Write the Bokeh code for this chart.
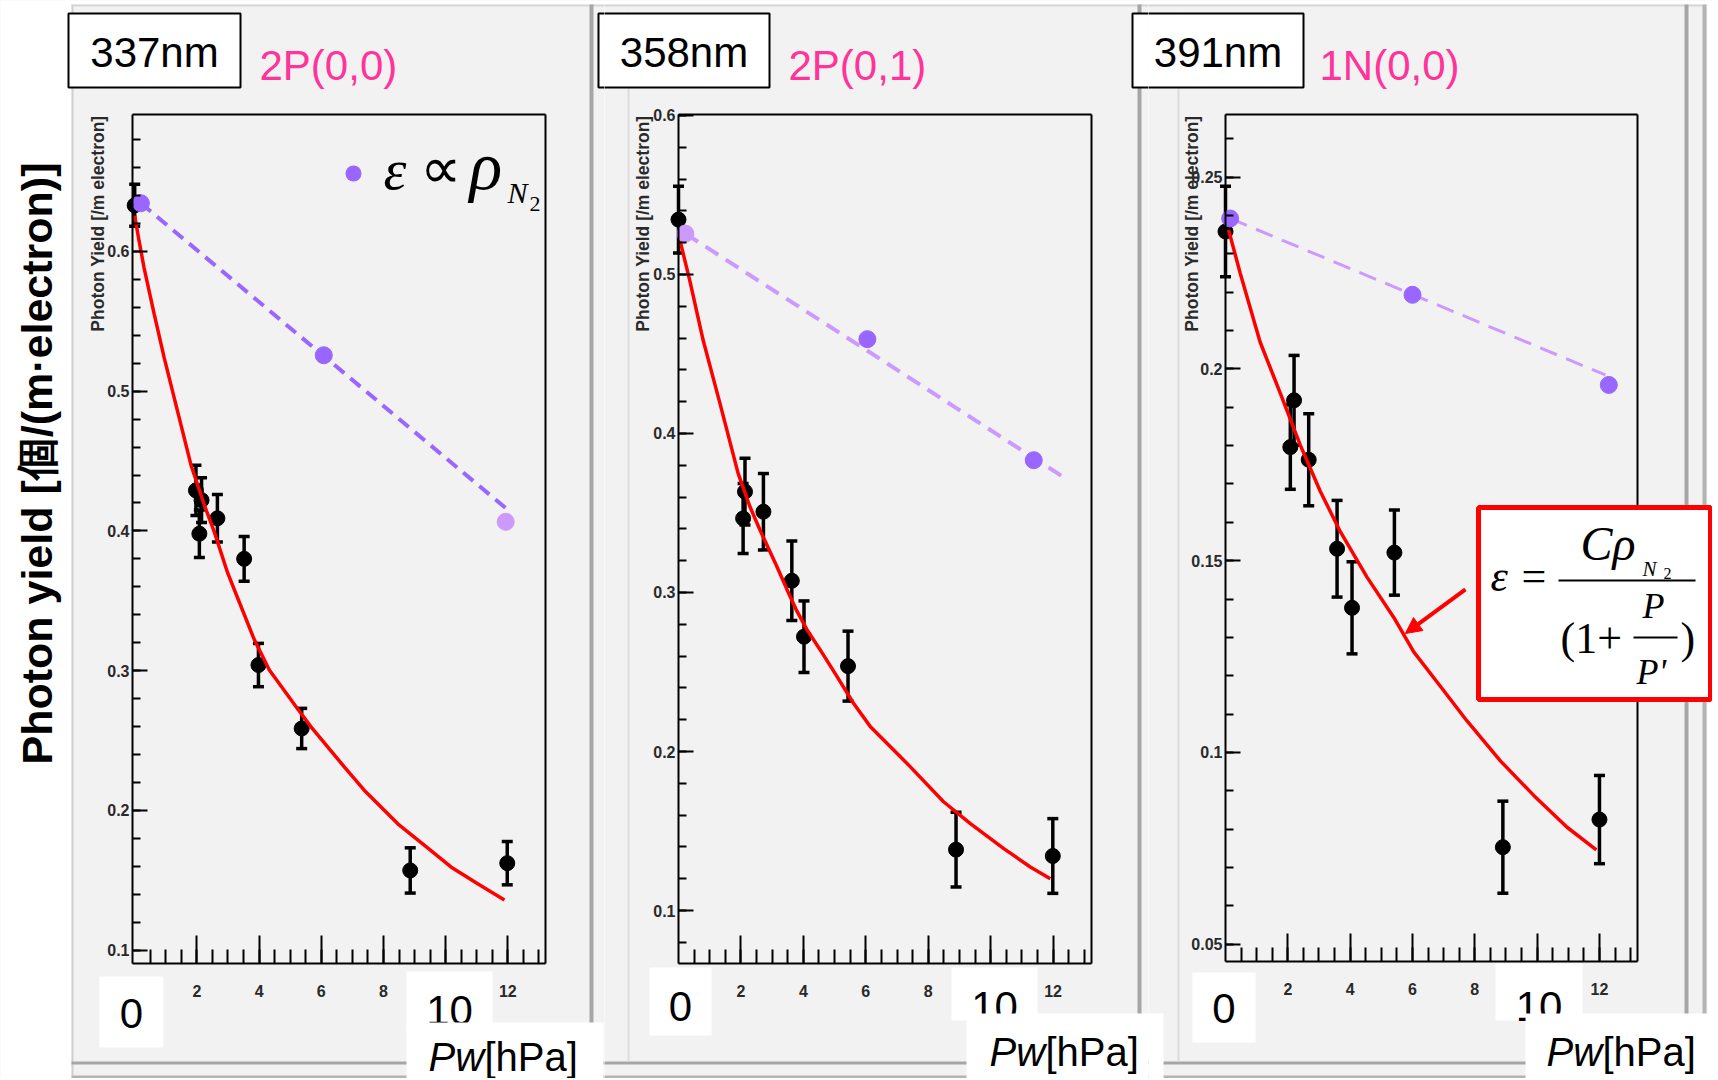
import math
from bokeh.plotting import figure
from bokeh.layouts import row
from bokeh.models import (Range1d, FixedTicker, Label, BoxAnnotation, Whisker, TeeHead,
                          ColumnDataSource, Arrow, NormalHead, LinearAxis)
from bokeh.embed import file_html
from bokeh.resources import INLINE

# ------------------------------------------------------------------ data
# 337 nm  2P(0,0)
yield337_p = [0.0, 1.97, 2.08, 2.15, 2.66, 3.52, 3.98, 5.37, 8.86, 11.98]
yield337_v = [0.633, 0.429, 0.398, 0.422, 0.409, 0.380, 0.304, 0.2586, 0.157, 0.1622]
yield337_e = [0.015, 0.018, 0.017, 0.016, 0.017, 0.016, 0.0155, 0.0144, 0.0162, 0.0155]
fit337_p = [0.0, 0.14, 0.3, 0.63, 0.95, 1.38, 1.81, 2.24, 2.56, 2.99, 3.42, 3.85, 4.33,
            5.19, 5.67, 6.74, 7.38, 8.46, 9.32, 10.18, 11.03, 11.89]
fit337_v = [0.6256, 0.6077, 0.5885, 0.555, 0.5238, 0.4855, 0.4472, 0.4185, 0.3993, 0.3699,
            0.3459, 0.322, 0.3005, 0.2742, 0.2598, 0.2311, 0.2144, 0.1904, 0.1749, 0.1593,
            0.1474, 0.1359]
rho337_p = [0.2, 6.08, 11.93]
rho337_v = [0.6345, 0.5257, 0.4065]
rholine337_p = [0.2, 11.97]
rholine337_v = [0.6345, 0.4156]

# 358 nm  2P(0,1)
yield358_p = [0.0, 2.07, 2.13, 2.72, 3.63, 4.02, 5.43, 8.89, 11.99]
yield358_v = [0.5345, 0.3466, 0.3634, 0.3508, 0.3074, 0.2722, 0.2537, 0.1383, 0.1343]
yield358_e = [0.021, 0.022, 0.021, 0.024, 0.025, 0.0225, 0.022, 0.0235, 0.0235]
fit358_p = [0.02, 0.36, 0.79, 1.33, 1.91, 2.29, 2.61, 3.14, 3.47, 3.79, 4.11, 4.53, 5.07,
            5.6, 6.14, 6.78, 7.42, 8.49, 9.35, 10.42, 11.27, 11.91]
fit358_v = [0.5236, 0.4963, 0.4586, 0.4188, 0.3749, 0.3539, 0.3393, 0.3168, 0.3021, 0.2884,
            0.2768, 0.2642, 0.2474, 0.2305, 0.2158, 0.2032, 0.1905, 0.1684, 0.1547, 0.1389,
            0.1274, 0.12]
rho358_p = [0.22, 6.05, 11.38]
rho358_v = [0.5257, 0.4593, 0.3832]
rholine358_p = [0.22, 12.45]
rholine358_v = [0.5257, 0.3711]

# 391 nm  1N(0,0)
yield391_p = [0.0, 2.08, 2.2, 2.67, 3.58, 4.06, 5.42, 8.9, 12.0]
yield391_v = [0.2358, 0.1796, 0.1918, 0.1763, 0.1531, 0.1377, 0.1521, 0.0753, 0.0825]
yield391_e = [0.0118, 0.011, 0.0117, 0.012, 0.0126, 0.012, 0.0111, 0.012, 0.0115]
fit391_p = [0.1, 0.47, 1.11, 1.76, 2.4, 3.04, 3.68, 4.54, 5.4, 6.04, 6.9, 7.75, 8.82,
            9.89, 10.96, 11.9]
fit391_v = [0.2362, 0.225, 0.207, 0.1936, 0.1801, 0.1681, 0.1576, 0.1457, 0.1352, 0.1262,
            0.1172, 0.1082, 0.0978, 0.0888, 0.0805, 0.0746]
rho391_p = [0.15, 6.0, 12.3]
rho391_v = [0.2392, 0.2193, 0.1958]
rholine391_p = [0.15, 12.19]
rholine391_v = [0.2392, 0.1984]

# axis extents and ticks
xlim337, ylim337 = (-0.07, 13.21), (0.0904, 0.698)
xlim358, ylim358 = (0.0, 13.22), (0.0665, 0.6006)
xlim391, ylim391 = (0.0, 13.23), (0.0455, 0.2662)
x_major = [2, 4, 6, 8, 10, 12]
y_major_a = [0.1, 0.2, 0.3, 0.4, 0.5, 0.6]
y_labels_a = ["0.1", "0.2", "0.3", "0.4", "0.5", "0.6"]
y_major_c = [0.05, 0.1, 0.15, 0.2, 0.25]
y_labels_c = ["0.05", "0.1", "0.15", "0.2", "0.25"]

# ------------------------------------------------------------------ style / layout
H = 1078
GRAY = "#f2f2f2"
SANS = "Liberation Sans"
SERIF = "Liberation Serif"
PINK = "#ff3399"
LAV = "#9966ff"
LAV_LIGHT = "#cc99ff"

x_minor = [0.5 * i for i in range(1, 27)]
y_minor_a1 = [round(0.1 + 0.02 * i, 2) for i in range(0, 30)]
y_minor_a2 = [round(0.08 + 0.02 * i, 2) for i in range(0, 27)]
y_minor_c = [round(0.05 + 0.01 * i, 2) for i in range(0, 22)]

FIGS = []


def make_panel(c0, c1, frame_px, xlim, ylim, yt, ylab, yminor,
               P, V, E, FP, FV, RP, RV, LP, LV, rho_colors, lcolor, ldash, lwidth):
    fx0, fx1, fy0, fy1 = frame_px
    dx0, dx1 = xlim
    dy0, dy1 = ylim
    sx = (dx1 - dx0) / (fx1 - fx0)
    sy = (dy1 - dy0) / (fy1 - fy0)
    xr = Range1d(dx0 - (fx0 - c0) * sx, dx1 + (c1 - fx1) * sx)
    yr = Range1d(dy0 - (H - fy1) * sy, dy1 + fy0 * sy)
    p = figure(width=c1 - c0, height=H, x_range=xr, y_range=yr,
               output_backend="svg", toolbar_location=None, min_border=0)
    p.title.visible = False
    p.background_fill_color = GRAY
    p.border_fill_color = GRAY
    p.outline_line_color = None
    p.xgrid.visible = False
    p.ygrid.visible = False
    xa, ya = p.xaxis[0], p.yaxis[0]
    xa.fixed_location = dy0
    xa.bounds = (dx0, dx1)
    ya.fixed_location = dx0
    ya.bounds = (dy0, dy1)
    xa.ticker = FixedTicker(ticks=x_major, minor_ticks=x_minor)
    xa.major_label_overrides = {10: ""}
    ya.ticker = FixedTicker(ticks=yt, minor_ticks=yminor)
    ya.major_label_overrides = {t: s for t, s in zip(yt, ylab)}
    for ax in (xa, ya):
        ax.axis_line_width = 2
        ax.axis_line_color = "black"
        ax.major_tick_line_width = 2
        ax.minor_tick_line_width = 2
        ax.major_tick_out = 0
        ax.minor_tick_out = 0
        ax.major_label_text_font = SANS
        ax.major_label_text_font_style = "bold"
        ax.major_label_text_font_size = "16px"
        ax.major_label_text_color = "#2a2a2a"
    xa.major_tick_in = 28
    xa.minor_tick_in = 14
    xa.major_label_standoff = 21
    ya.major_tick_in = 15
    ya.minor_tick_in = 8
    ya.major_label_standoff = 3
    # closing lines of the ROOT frame (top and right edges)
    top = LinearAxis(fixed_location=dy1, bounds=(dx0, dx1), ticker=FixedTicker(ticks=[]),
                     axis_line_width=2, major_tick_in=0, major_tick_out=0,
                     minor_tick_in=0, minor_tick_out=0)
    right = LinearAxis(fixed_location=dx1, bounds=(dy0, dy1), ticker=FixedTicker(ticks=[]),
                       axis_line_width=2, major_tick_in=0, major_tick_out=0,
                       minor_tick_in=0, minor_tick_out=0)
    p.add_layout(top, "above")
    p.add_layout(right, "right")

    src = ColumnDataSource(dict(x=P, upper=[v + e for v, e in zip(V, E)],
                                lower=[v - e for v, e in zip(V, E)]))
    p.add_layout(Whisker(base="x", upper="upper", lower="lower", source=src,
                         line_width=3.5, line_color="black",
                         upper_head=TeeHead(size=11, line_width=3.5, line_color="black"),
                         lower_head=TeeHead(size=11, line_width=3.5, line_color="black")))
    p.scatter(P, V, size=15, color="black")
    p.line(FP, FV, line_color="#ff0000", line_width=3.5)
    p.line(LP, LV, line_color=lcolor, line_dash=ldash, line_width=lwidth)
    p.scatter(RP, RV, size=17, fill_color=rho_colors, line_color=rho_colors)
    FIGS.append((p, c0, c1))
    return p


f1 = make_panel(0, 604, (132, 545, 114, 963), xlim337, ylim337, y_major_a, y_labels_a, y_minor_a1,
                yield337_p, yield337_v, yield337_e, fit337_p, fit337_v,
                rho337_p, rho337_v, rholine337_p, rholine337_v,
                [LAV, LAV, LAV_LIGHT], LAV, "13 8", 4)
f2 = make_panel(604, 1148, (678, 1090.7, 114, 963.3), xlim358, ylim358, y_major_a, y_labels_a, y_minor_a2,
                yield358_p, yield358_v, yield358_e, fit358_p, fit358_v,
                rho358_p, rho358_v, rholine358_p, rholine358_v,
                [LAV_LIGHT, LAV, LAV], LAV_LIGHT, "15 9", 4)
f3 = make_panel(1148, 1712, (1225, 1637.3, 114.4, 961), xlim391, ylim391, y_major_c, y_labels_c, y_minor_c,
                yield391_p, yield391_v, yield391_e, fit391_p, fit391_v,
                rho391_p, rho391_v, rholine391_p, rholine391_v,
                [LAV, LAV, LAV], LAV_LIGHT, "18 10", 3)


def box(X0, X1, Y0, Y1, fill, line=None, lw=0, radius=0):
    for p, a, b in FIGS:
        if X1 > a and X0 < b:
            p.add_layout(BoxAnnotation(left=X0 - a, right=X1 - a, top=Y0, bottom=Y1,
                                       left_units="canvas", right_units="canvas",
                                       top_units="canvas", bottom_units="canvas",
                                       fill_color=fill, fill_alpha=1.0,
                                       line_color=line if line else fill,
                                       line_alpha=1.0 if line else 0.0, line_width=lw,
                                       border_radius=radius))


def text(X, B, s, size, font=SANS, style="normal", color="black", align="left", angle=0.0,
         middle=False):
    # B is the baseline (or the centre line when middle=True), in canvas pixels
    y = B if middle else B - 0.36 * size
    for p, a, b in FIGS:
        if a <= X < b:
            p.add_layout(Label(x=X - a, y=y, x_units="canvas", y_units="canvas", text=s,
                               text_font=font, text_font_style=style,
                               text_font_size=f"{size}px", text_color=color,
                               text_align=align, text_baseline="middle", angle=angle))
            return


# white surroundings and panel bevels
box(0, 71, 0, H, "white")
box(0, 1712, 0, 4, "white")
box(1707, 1712, 0, H, "white")
box(71, 73, 4, 1075, "#cfcfcf")
box(71, 1702, 4, 6, "#d6d6d6")
box(589, 593, 4, H, "#a6a6a6")
box(1137, 1141, 4, H, "#a6a6a6")
box(1684, 1688, 4, H, "#a6a6a6")
box(1702, 1706, 4, H, "#b4b4b4")
box(71, 1702, 1061, 1064, "#a6a6a6")
box(71, 1706, 1075, 1078, "#b4b4b4")
box(627, 629, 12, 1061, "#dcdcdc")
box(1177, 1179, 12, 1061, "#dcdcdc")

# main vertical title
text(36, 463, "Photon yield [個/(m·electron)]", 43, style="bold", align="center",
     angle=math.pi / 2, middle=True)

# headers
box(68, 240, 13, 87, "white", "black", 2)
box(598, 769, 13, 87, "white", "black", 2)
box(1132, 1303, 13, 87, "white", "black", 2)
text(154, 67, "337nm", 42, align="center")
text(259, 80, "2P(0,0)", 42, color=PINK)
text(683.5, 67, "358nm", 42, align="center")
text(788, 80, "2P(0,1)", 42, color=PINK)
text(1217.5, 67, "391nm", 42, align="center")
text(1319, 80, "1N(0,0)", 42, color=PINK)

# small ROOT axis titles
for cx in (97, 642, 1191):
    text(cx, 115, "Photon Yield [/m electron]", 17.5, style="bold", color="#2a2a2a",
         align="right", angle=math.pi / 2, middle=True)

# legend of panel 1
box(345, 361, 165, 181, LAV, radius=8)
text(383, 190, "ε", 58, font=SERIF, style="italic")
text(419, 189, "∝", 58, font=SERIF)
text(469, 190, "ρ", 68, font=SERIF, style="italic")
text(507, 203, "N", 30, font=SERIF, style="italic")
text(529, 211, "2", 22, font=SERIF)

# big axis number overlays
box(99, 163, 976, 1047, "white")
text(131, 1028, "0", 42, align="center")
box(406, 492, 971, 1030, "white")
text(449, 1025, "10", 42, align="center")
box(406, 603, 1022, 1080, "white")
text(428, 1071, "Pw", 40, style="italic")
text(484, 1071, "[hPa]", 40)

box(649, 711, 967, 1035, "white")
text(680, 1021, "0", 42, align="center")
box(951, 1037, 967, 1020, "white")
text(994, 1021, "10", 42, align="center")
box(966, 1163, 1013, 1080, "white")
text(989, 1066, "Pw", 40, style="italic")
text(1045, 1066, "[hPa]", 40)

box(1192, 1255, 972, 1042, "white")
text(1223.5, 1023, "0", 42, align="center")
box(1495, 1582, 963, 1020, "white")
text(1538.5, 1021, "10", 42, align="center")
box(1525, 1712, 1013, 1080, "white")
text(1546, 1066, "Pw", 40, style="italic")
text(1602, 1066, "[hPa]", 40)

# formula box (panel 3)
box(1478, 1710, 507, 699, "white", "#ff0000", 5)
text(1490, 592, "ε", 44, font=SERIF, style="italic")
text(1521, 592, "=", 44, font=SERIF)
box(1558, 1695, 579, 581, "black")
text(1580, 560, "C", 48, font=SERIF, style="italic")
text(1612, 560, "ρ", 48, font=SERIF, style="italic")
text(1642, 576, "N", 21, font=SERIF, style="italic")
text(1663, 579, "2", 16, font=SERIF)
text(1560, 654, "(1+", 44, font=SERIF)
text(1642, 618, "P", 36, font=SERIF, style="italic")
box(1633, 1677, 636, 638, "black")
text(1636, 684, "P'", 36, font=SERIF, style="italic")
text(1680, 654, ")", 44, font=SERIF)

# arrow pointing at the fit curve (data coordinates of panel 3)
arrow_tail = (7.70, 0.1425)
arrow_tip = (5.77, 0.131)
f3.add_layout(Arrow(x_start=arrow_tail[0], y_start=arrow_tail[1], x_end=arrow_tip[0], y_end=arrow_tip[1],
                    line_color="#ff0000", line_width=4,
                    end=NormalHead(size=16, fill_color="#ff0000", line_color="#ff0000")))

layout = row(f1, f2, f3)
open("out.html", "w").write(file_html(layout, INLINE))
